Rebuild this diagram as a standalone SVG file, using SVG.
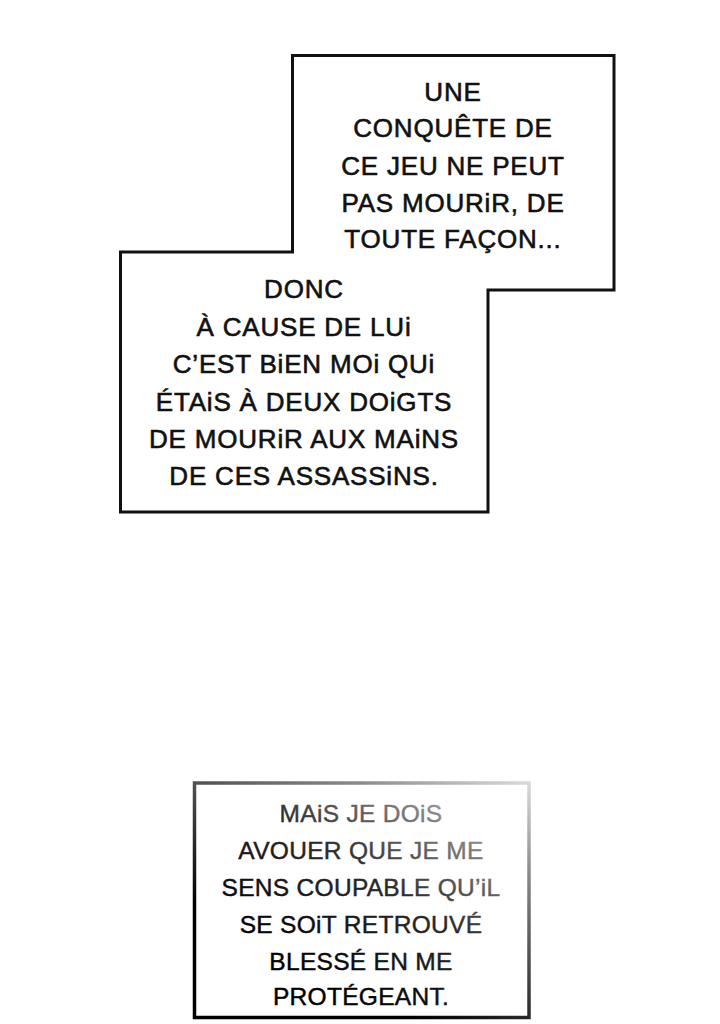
<svg xmlns="http://www.w3.org/2000/svg" width="720" height="1024" viewBox="0 0 720 1024">
<defs>
<linearGradient id="fade" gradientUnits="userSpaceOnUse" x1="470" y1="770" x2="330" y2="990">
<stop offset="0" stop-color="#c4c4c4"/>
<stop offset="0.55" stop-color="#2a2a2a"/>
<stop offset="1" stop-color="#000"/>
</linearGradient>
<linearGradient id="edge" gradientUnits="userSpaceOnUse" x1="500" y1="770" x2="380" y2="1000">
<stop offset="0" stop-color="#d8d8d8"/>
<stop offset="0.3" stop-color="#8a8a8a"/>
<stop offset="1" stop-color="#000"/>
</linearGradient>
</defs>
<style>
.box{fill:#fff;stroke:#111;stroke-width:3;stroke-linejoin:miter}
.t{font-family:"Liberation Sans",Arial,sans-serif;font-size:26px;letter-spacing:0.8px;text-anchor:middle;fill:#111;stroke:#111;stroke-width:0.6}
.b{font-family:"Liberation Sans",Arial,sans-serif;font-size:24.5px;letter-spacing:0.3px;text-anchor:middle;fill:url(#fade);stroke:url(#fade);stroke-width:0.4}
</style>
<rect width="720" height="1024" fill="#fff"/>
<g id="caption-top">
<path class="box" d="M292.5,55.5 H614 V290 H488 V512 H120.5 V252 H292.5 Z"/>
<text class="t" x="453" y="101">UNE</text>
<text class="t" x="453" y="137">CONQUÊTE DE</text>
<text class="t" x="453" y="175">CE JEU NE PEUT</text>
<text class="t" x="453" y="212">PAS MOURiR, DE</text>
<text class="t" x="453" y="248">TOUTE FAÇON...</text>
<text class="t" x="304" y="298">DONC</text>
<text class="t" x="304" y="336">À CAUSE DE LUi</text>
<text class="t" x="304" y="373">C’EST BiEN MOi QUi</text>
<text class="t" x="304" y="411">ÉTAiS À DEUX DOiGTS</text>
<text class="t" x="304" y="448">DE MOURiR AUX MAiNS</text>
<text class="t" x="304" y="485">DE CES ASSASSiNS.</text>
</g>
<g id="caption-bottom">
<rect x="194.5" y="783" width="334.5" height="234.5" fill="#fff" stroke="url(#edge)" stroke-width="3.5"/>
<text class="b" x="361" y="822">MAiS JE DOiS</text>
<text class="b" x="361" y="859">AVOUER QUE JE ME</text>
<text class="b" x="361" y="896">SENS COUPABLE QU’iL</text>
<text class="b" x="361" y="933">SE SOiT RETROUVÉ</text>
<text class="b" x="361" y="970">BLESSÉ EN ME</text>
<text class="b" x="361" y="1005">PROTÉGEANT.</text>
</g>
<g id="connectors"></g>
</svg>
